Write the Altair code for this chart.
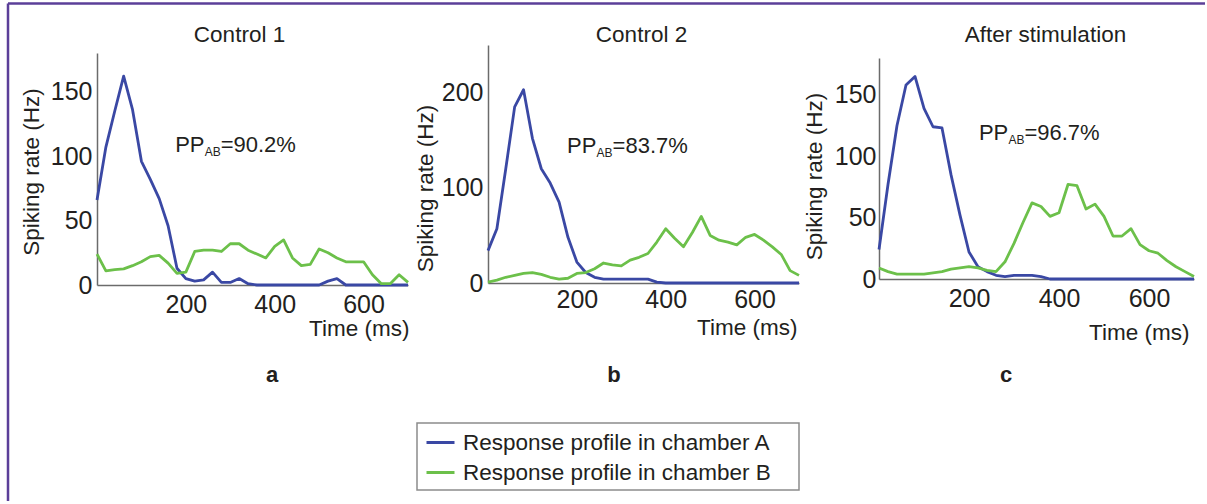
import altair as alt
import pandas as pd

# ---------------- data ----------------
time_ms = list(range(0, 701, 20))

# Control 1
a_chamber_A = [66, 107, 135, 162, 136, 96, 82, 67, 46, 13, 5, 3, 4, 10, 2, 2, 5, 1,
               0, 0, 0, 0, 0, 0, 0, 0, 3, 5, 0, 0, 0, 0, 0, 0, 0, 0]
a_chamber_B = [24, 11, 12, 12.5, 15, 18, 22, 23, 17, 9, 10, 26, 27, 27, 26, 32, 32, 27,
               24, 21, 30, 35, 21, 15, 16, 28, 25, 21, 18, 18, 18, 8, 1, 1, 8, 2]
# Control 2
b_chamber_A = [34, 57, 120, 185, 203, 152, 120, 105, 85, 48, 22, 11, 6, 4, 4, 4, 4, 4,
               4, 1, 0, 0, 0, 0, 0, 0, 0, 0, 0, 0, 0, 0, 0, 0, 0, 0]
b_chamber_B = [1, 3, 6, 8, 10, 11, 9, 6, 4, 5, 10, 11, 15, 21, 19, 18, 24, 27,
               31, 43, 57, 47, 38, 53, 70, 50, 45, 43, 40, 48, 51, 45, 38, 30, 13, 8]
# After stimulation
c_chamber_A = [24, 77, 125, 158, 165, 139, 124, 123, 85, 52, 22, 10, 6, 3, 2, 3, 3, 3,
               2, 0, 0, 0, 0, 0, 0, 0, 0, 0, 0, 0, 0, 0, 0, 0, 0, 0]
c_chamber_B = [9, 6, 4, 4, 4, 4, 5, 6, 8, 9, 10, 9, 7, 6, 14, 29, 46, 62,
               59, 51, 54, 77, 76, 57, 61, 51, 35, 35, 41, 28, 23, 21, 15, 10, 6, 2]

series_names = ["Response profile in chamber A", "Response profile in chamber B"]
panel_titles = ["Control 1", "Control 2", "After stimulation"]
panel_letters = ["a", "b", "c"]
pp_values = ["=90.2%", "=83.7%", "=96.7%"]
pp_time = [176, 178, 222]
pp_rate = [103, 137, 113.5]
y_domains = [[0, 180], [0, 250], [0, 180]]
y_ticks = [[0, 50, 100, 150], [0, 100, 200], [0, 50, 100, 150]]
x_ticks = [200, 400, 600]

series_A = [a_chamber_A, b_chamber_A, c_chamber_A]
series_B = [a_chamber_B, b_chamber_B, c_chamber_B]

# ---------------- style / layout ----------------
BLUE = "#3a48a4"
GREEN = "#6cc04a"
FRAME = "#5b3f99"
TXT = "#231f20"
FONT = "Liberation Sans"

H = 240
widths = [311, 311, 315]
y_ranges = [[240, 8], [238, 0], [234, 13]]
x_axis_offset = [0, -2, -6]
x_label_pad = [27, 24, 27]
y_label_pad = [5, 5, 3]
title_x = [142.5, 153.5, 166.5]
ytitle_x = [-59, -56, -58]
ytitle_y = [126.5, 143, 131]
xtitle_x = [312, 309, 310]
xtitle_y = [50, 51, 60]
letter_x = [175, 126, 127]

legend = alt.Legend(
    orient="none", legendX=321, legendY=375, title=None, direction="vertical",
    symbolType="stroke", symbolSize=784, symbolStrokeWidth=3,
    labelFontSize=22.5, labelFont=FONT, labelColor=TXT, labelLimit=500,
    padding=7, rowPadding=3, labelOffset=7,
)


def panel(i):
    n = len(time_ms)
    df = pd.DataFrame({
        "t": time_ms * 2,
        "rate": series_A[i] + series_B[i],
        "series": [series_names[0]] * n + [series_names[1]] * n,
    })
    x = alt.X("t:Q", scale=alt.Scale(domain=[0, 700], nice=False, zero=False),
              axis=alt.Axis(values=x_ticks, title="Time (ms)", offset=x_axis_offset[i],
                            labelBaseline="alphabetic", labelPadding=x_label_pad[i],
                            titleX=xtitle_x[i], titleY=xtitle_y[i], titleAlign="right",
                            titleBaseline="alphabetic", titleAngle=0))
    y = alt.Y("rate:Q", scale=alt.Scale(domain=y_domains[i], range=y_ranges[i], nice=False),
              axis=alt.Axis(values=y_ticks[i], title="Spiking rate (Hz)",
                            labelPadding=y_label_pad[i], labelBaseline="middle",
                            titleAngle=270, titleX=ytitle_x[i], titleY=ytitle_y[i],
                            titleAlign="center", titleBaseline="alphabetic"))
    lines = alt.Chart(df).mark_line(strokeWidth=2.8, strokeJoin="round").encode(
        x=x, y=y,
        color=alt.Color("series:N",
                        scale=alt.Scale(domain=series_names, range=[BLUE, GREEN]),
                        legend=legend),
    )

    ann = pd.DataFrame({"t": [pp_time[i]], "rate": [pp_rate[i]],
                        "pp": ["PP"], "sub": ["AB"], "rest": [pp_values[i]]})
    base = alt.Chart(ann)
    common = dict(align="left", baseline="alphabetic", font=FONT, color=TXT)
    pp = base.mark_text(fontSize=22, **common).encode(x="t:Q", y="rate:Q", text="pp:N")
    sub = base.mark_text(fontSize=12, dx=29.5, dy=4, **common).encode(
        x="t:Q", y="rate:Q", text="sub:N")
    rest = base.mark_text(fontSize=22, dx=45.5, **common).encode(
        x="t:Q", y="rate:Q", text="rest:N")

    lab_df = pd.DataFrame({"letter": [panel_letters[i]], "title": [panel_titles[i]]})
    letter = alt.Chart(lab_df).mark_text(
        fontSize=22, fontWeight="bold", font=FONT, color=TXT,
        align="center", baseline="alphabetic",
    ).encode(x=alt.value(letter_x[i]), y=alt.value(337), text="letter:N")
    title = alt.Chart(lab_df).mark_text(
        fontSize=22.5, font=FONT, color=TXT, align="center", baseline="alphabetic",
    ).encode(x=alt.value(title_x[i]), y=alt.value(-3.5), text="title:N")

    layers = [lines, pp, sub, rest, letter, title]

    frame_df = pd.DataFrame({"k": [0]})
    if i == 0:
        vline = alt.Chart(frame_df).mark_rule(color=FRAME, strokeWidth=2.5).encode(
            x=alt.value(-89), y=alt.value(-41.5), y2=alt.value(456))
        hline = alt.Chart(frame_df).mark_rule(color=FRAME, strokeWidth=2.5).encode(
            x=alt.value(-89), x2=alt.value(1108), y=alt.value(-41.5))
        layers = [vline, hline] + layers
    if i == 1:
        # box around the legend
        box = alt.Chart(frame_df).mark_rect(
            fill="white", stroke="#8c8c8c", strokeWidth=1.5
        ).encode(x=alt.value(-71), x2=alt.value(311), y=alt.value(378), y2=alt.value(445))
        layers = [box] + layers

    return alt.layer(*layers).properties(width=widths[i], height=H)


chart = alt.hconcat(panel(0), panel(1), panel(2), spacing=80, bounds="flush").resolve_scale(
    color="shared", x="independent", y="independent"
).properties(
    padding={"left": 6, "top": 2, "right": 0, "bottom": 0},
    autosize=alt.AutoSizeParams(type="pad"),
    background="white",
).configure_view(strokeWidth=0).configure_axis(
    domainColor="#6b6b6b", domainWidth=1.5, ticks=False, tickSize=0, grid=False,
    labelFont=FONT, labelFontSize=25, labelColor=TXT,
    titleFont=FONT, titleFontSize=22.5, titleFontWeight="normal", titleColor=TXT,
)

chart.save("out.html", embed_options={"renderer": "svg", "actions": False})
